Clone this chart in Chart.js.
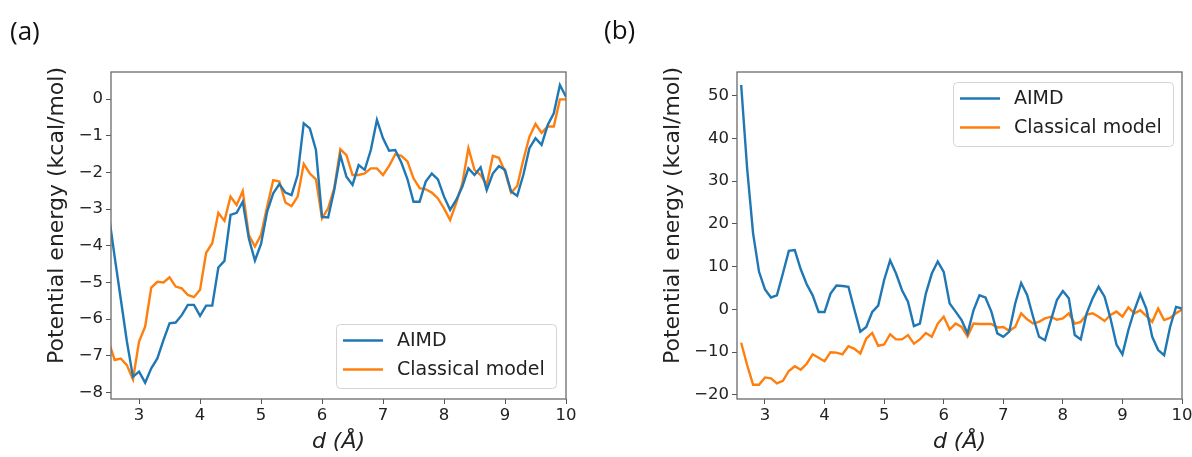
<!DOCTYPE html>
<html lang="en">
<head>
<meta charset="UTF-8">
<title>Potential energy vs d</title>
<script src="https://cdn.jsdelivr.net/npm/chart.js"></script>
<style>
  body { margin: 0; background: #fff; }
  #wrap { position: relative; width: 1192px; height: 457px; overflow: hidden; }
  #wrap canvas { position: absolute; top: 0; }
  #chartA { left: 0; }
  #chartB { left: 596px; }
  .panel-tag { position: absolute; font-family: "Open Sans", sans-serif; font-size: 26px; line-height: 1; color: #111; }
</style>
</head>
<body>
<div id="wrap">
  <canvas id="chartA" width="596" height="457"></canvas>
  <canvas id="chartB" width="596" height="457"></canvas>
  <div class="panel-tag" style="left:10px; top:17px">(a)</div>
  <div class="panel-tag" style="left:604px; top:16px">(b)</div>
</div>
<script>
// separation d (Å), shared by both panels
var dValues = [2.5, 2.6, 2.7, 2.8, 2.9, 3.0, 3.1, 3.2, 3.3, 3.4,
  3.5, 3.6, 3.7, 3.8, 3.9, 4.0, 4.1, 4.2, 4.3, 4.4,
  4.5, 4.6, 4.7, 4.8, 4.9, 5.0, 5.1, 5.2, 5.3, 5.4,
  5.5, 5.6, 5.7, 5.8, 5.9, 6.0, 6.1, 6.2, 6.3, 6.4,
  6.5, 6.6, 6.7, 6.8, 6.9, 7.0, 7.1, 7.2, 7.3, 7.4,
  7.5, 7.6, 7.7, 7.8, 7.9, 8.0, 8.1, 8.2, 8.3, 8.4,
  8.5, 8.6, 8.7, 8.8, 8.9, 9.0, 9.1, 9.2, 9.3, 9.4,
  9.5, 9.6, 9.7, 9.8, 9.9, 10.0];

// panel (a)
var aimdA = [-3.1, -4.3, -5.45, -6.6, -7.57, -7.43, -7.73, -7.34, -7.07, -6.57,
  -6.11, -6.09, -5.89, -5.61, -5.61, -5.91, -5.63, -5.63, -4.59, -4.41,
  -3.16, -3.10, -2.80, -3.80, -4.40, -3.95, -3.07, -2.57, -2.32, -2.55,
  -2.62, -2.07, -0.66, -0.80, -1.39, -3.21, -3.23, -2.48, -1.53, -2.12,
  -2.34, -1.80, -1.93, -1.39, -0.57, -1.07, -1.41, -1.39, -1.73, -2.18,
  -2.80, -2.80, -2.25, -2.03, -2.19, -2.66, -3.02, -2.75, -2.39, -1.89,
  -2.07, -1.86, -2.48, -2.03, -1.83, -1.93, -2.52, -2.64, -2.07, -1.34,
  -1.07, -1.25, -0.71, -0.39, 0.38, 0.06];
var classicalA = [-6.6, -7.11, -7.07, -7.25, -7.64, -6.61, -6.20, -5.14, -4.98, -5.00,
  -4.86, -5.11, -5.16, -5.34, -5.40, -5.20, -4.19, -3.93, -3.10, -3.32,
  -2.66, -2.89, -2.51, -3.71, -4.02, -3.70, -2.93, -2.21, -2.25, -2.82,
  -2.92, -2.66, -1.77, -2.03, -2.19, -3.25, -2.98, -2.43, -1.37, -1.53,
  -2.07, -2.07, -2.03, -1.89, -1.89, -2.07, -1.82, -1.51, -1.55, -1.70,
  -2.16, -2.43, -2.46, -2.55, -2.71, -2.98, -3.30, -2.84, -2.30, -1.34,
  -1.93, -2.07, -2.34, -1.55, -1.60, -1.98, -2.55, -2.37, -1.66, -1.03,
  -0.68, -0.92, -0.75, -0.75, -0.01, -0.01];

// panel (b)
var aimdB = [null, 52.5, 33.0, 17.8, 8.8, 4.7, 2.8, 3.3, 8.4, 13.7,
  13.9, 9.4, 5.9, 3.3, -0.6, -0.6, 3.7, 5.6, 5.5, 5.3,
  0.0, -5.2, -4.1, -0.6, 0.9, 6.9, 11.5, 8.4, 4.5, 1.8,
  -3.9, -3.3, 3.7, 8.4, 11.2, 8.8, 1.4, -0.5, -2.5, -5.6,
  -0.2, 3.3, 2.8, -0.5, -5.6, -6.4, -5.2, 1.4, 6.2, 3.4,
  -1.7, -6.4, -7.2, -2.5, 2.2, 4.3, 2.6, -6.0, -7.0, -0.9,
  2.6, 5.3, 3.0, -2.1, -8.2, -10.5, -4.8, -0.2, 3.6, 0.2,
  -6.4, -9.5, -10.7, -4.1, 0.6, 0.2];
var classicalB = [null, -7.8, -13.0, -17.6, -17.6, -15.9, -16.1, -17.3, -16.7, -14.4,
  -13.3, -14.1, -12.7, -10.5, -11.3, -12.1, -10.0, -10.1, -10.5, -8.6,
  -9.2, -10.3, -6.8, -5.5, -8.5, -8.2, -5.8, -7.0, -7.0, -6.0,
  -8.0, -7.0, -5.5, -6.4, -3.3, -1.7, -4.7, -3.3, -4.1, -6.3,
  -3.3, -3.4, -3.4, -3.4, -4.2, -4.1, -5.0, -4.1, -0.9, -2.3,
  -3.3, -2.9, -2.1, -1.7, -2.4, -2.1, -0.9, -3.3, -2.9, -1.2,
  -0.9, -1.7, -2.7, -1.3, -0.5, -1.7, 0.5, -0.9, -0.2, -1.5,
  -2.9, 0.2, -2.5, -2.0, -0.9, 0.0];

var xTicks = [3, 4, 5, 6, 7, 8, 9, 10];
var yTicksA = [-8, -7, -6, -5, -4, -3, -2, -1, 0];
var yTicksB = [-20, -10, 0, 10, 20, 30, 40, 50];
var seriesLabels = ['AIMD', 'Classical model'];
var seriesColors = ['#1f77b4', '#ff7f0e'];
var yTitle = 'Potential energy (kcal/mol)';
var xTitle = 'd (Å)';

Chart.defaults.font.family = '"DejaVu Sans", sans-serif';
Chart.defaults.color = '#222';

// axes box drawn on all four sides
var framePlugin = {
    id: 'frame',
    afterDatasetsDraw: function(chart) {
        var a = chart.chartArea, ctx = chart.ctx;
        ctx.save();
        ctx.strokeStyle = '#6a6a6a';
        ctx.lineWidth = 1.3;
        ctx.strokeRect(a.left, a.top, a.right - a.left, a.bottom - a.top);
        ctx.restore();
    }
};

// rotated y title, a bit above the axis middle as in the figure
var yTitlePlugin = {
    id: 'yTitle',
    afterDraw: function(chart, args, opts) {
        var a = chart.chartArea, ctx = chart.ctx;
        ctx.save();
        ctx.translate(opts.x, (a.top + a.bottom) / 2 - opts.lift);
        ctx.rotate(-Math.PI / 2);
        ctx.font = '22px "DejaVu Sans", sans-serif';
        ctx.fillStyle = '#222';
        ctx.textAlign = 'center';
        ctx.textBaseline = 'middle';
        ctx.fillText(yTitle, 0, 0);
        ctx.restore();
    }
};

// matplotlib-like legend box inside the axes
var boxLegend = {
    id: 'boxLegend',
    afterDraw: function(chart, args, opts) {
        var a = chart.chartArea, ctx = chart.ctx;
        var w = 220, h = 64;
        var left = a.right - opts.right - w;
        var top = opts.corner === 'bottom' ? a.bottom - opts.bottom - h : a.top + opts.top;
        ctx.save();
        ctx.beginPath();
        ctx.roundRect(left + 0.5, top + 0.5, w, h, 4);
        ctx.fillStyle = 'rgba(255,255,255,0.8)';
        ctx.fill();
        ctx.strokeStyle = '#d4d4d4';
        ctx.lineWidth = 1;
        ctx.stroke();
        chart.data.datasets.forEach(function(ds, i) {
            var y = top + 16.5 + i * 29;
            ctx.beginPath();
            ctx.moveTo(left + 7, y);
            ctx.lineTo(left + 47, y);
            ctx.strokeStyle = ds.borderColor;
            ctx.lineWidth = ds.borderWidth;
            ctx.stroke();
            ctx.font = '19px "DejaVu Sans", sans-serif';
            ctx.fillStyle = '#222';
            ctx.textBaseline = 'middle';
            ctx.fillText(ds.label, left + 61, y + 1);
        });
        ctx.restore();
    }
};

function toPoints(ys) {
    return dValues.map(function(x, i) { return { x: x, y: ys[i] }; });
}

function minusFmt(v) {
    return v < 0 ? '\u2212' + Math.abs(v) : String(v);
}

function makePanel(id, aimd, classical, cfg) {
    var ctx = document.getElementById(id).getContext('2d');
    return new Chart(ctx, {
        type: 'line',
        data: {
            datasets: [aimd, classical].map(function(ys, i) {
                return {
                    label: seriesLabels[i],
                    data: toPoints(ys),
                    borderColor: seriesColors[i],
                    backgroundColor: seriesColors[i],
                    borderWidth: 2.4,
                    pointRadius: 0,
                    tension: 0,
                    fill: false
                };
            })
        },
        options: {
            responsive: false,
            animation: false,
            layout: { padding: { left: 0, top: 72, right: cfg.rightPad, bottom: 0 } },
            plugins: {
                legend: { display: false },
                tooltip: { enabled: false },
                boxLegend: cfg.legend,
                yTitle: { x: cfg.yTitleX, lift: 20 }
            },
            scales: {
                x: {
                    type: 'linear',
                    min: cfg.xMin,
                    max: 10,
                    afterBuildTicks: function(s) { s.ticks = xTicks.map(function(v) { return { value: v }; }); },
                    afterFit: function(s) { s.height = 58; s.paddingLeft = 0; s.paddingRight = 0; },
                    border: { display: false },
                    grid: { drawOnChartArea: false, tickLength: 5, tickColor: '#555' },
                    ticks: { font: { size: 16.5 }, padding: 2, maxRotation: 0, autoSkip: false },
                    title: {
                        display: true,
                        text: xTitle,
                        font: { size: 22, style: 'italic' },
                        padding: { top: 0, bottom: 2 }
                    }
                },
                y: {
                    min: cfg.yMin,
                    max: cfg.yMax,
                    afterBuildTicks: function(s) { s.ticks = cfg.yTicks.map(function(v) { return { value: v }; }); },
                    afterFit: function(s) { s.width = cfg.yAxisWidth; s.paddingTop = 0; s.paddingBottom = 0; },
                    border: { display: false },
                    grid: { drawOnChartArea: false, tickLength: 5, tickColor: '#555' },
                    ticks: { font: { size: 16.5 }, padding: 3, callback: minusFmt }
                }
            }
        },
        plugins: [framePlugin, yTitlePlugin, boxLegend]
    });
}

makePanel('chartA', aimdA, classicalA, {
    xMin: 2.54, yMin: -8.174, yMax: 0.736, yTicks: yTicksA,
    yAxisWidth: 111, rightPad: 30, yTitleX: 57,
    legend: { corner: 'bottom', right: 10, bottom: 11 }
});

makePanel('chartB', aimdB, classicalB, {
    xMin: 2.53, yMin: -20.95, yMax: 55.55, yTicks: yTicksB,
    yAxisWidth: 141, rightPad: 10, yTitleX: 77.5,
    legend: { corner: 'top', right: 9, top: 10 }
});
</script>
</body>
</html>
